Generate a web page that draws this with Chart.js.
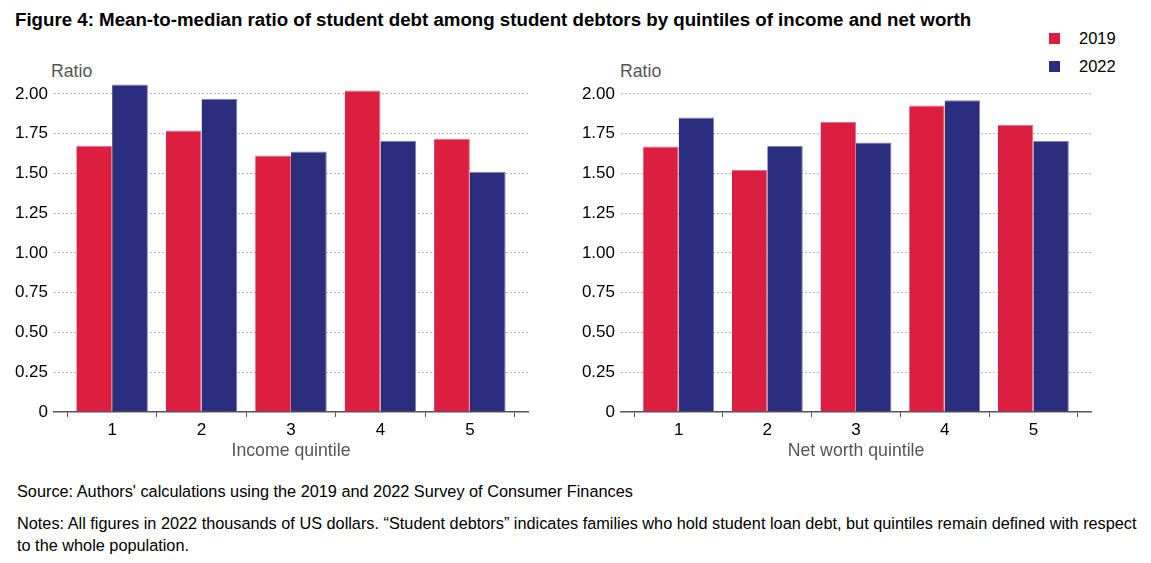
<!DOCTYPE html>
<html>
<head>
<meta charset="utf-8">
<script src="https://cdn.jsdelivr.net/npm/chart.js@4.4.1/dist/chart.umd.min.js"></script>
<style>
  html, body { margin: 0; padding: 0; background: #fff; }
  body { width: 1151px; height: 563px; position: relative; overflow: hidden; font-family: "Liberation Sans", Arial, sans-serif; }
  #title { position: absolute; left: 15px; top: 9px; font-size: 18.7px; font-weight: bold; color: #000; white-space: nowrap; }
  .ratio { position: absolute; top: 61px; font-size: 17.7px; color: #555; }
  .cwrap { position: absolute; top: 60px; height: 402px; }
  #legend { position: absolute; left: 1049px; top: 28px; font-size: 16.5px; color: #000; }
  .li { position: relative; height: 28px; line-height: 20px; }
  .sw { position: absolute; left: 0; top: 5px; width: 11px; height: 11px; }
  .lt { position: absolute; left: 30px; top: 0; }
  #source { position: absolute; left: 17px; top: 482px; font-size: 16.3px; color: #000; }
  #notes { position: absolute; left: 17px; top: 512px; width: 1132px; font-size: 16.3px; line-height: 22px; color: #000; }
</style>
</head>
<body>
<div id="title">Figure 4: Mean-to-median ratio of student debt among student debtors by quintiles of income and net worth</div>
<div id="legend">
  <div class="li"><span class="sw" style="background:#DC1F40"></span><span class="lt">2019</span></div>
  <div class="li"><span class="sw" style="background:#2B2E7D"></span><span class="lt">2022</span></div>
</div>
<div class="ratio" style="left:51px">Ratio</div>
<div class="ratio" style="left:620px">Ratio</div>
<div class="cwrap" style="left:0px; width:540px;"><canvas id="c1"></canvas></div>
<div class="cwrap" style="left:567px; width:536px;"><canvas id="c2"></canvas></div>
<div id="source">Source: Authors' calculations using the 2019 and 2022 Survey of Consumer Finances</div>
<div id="notes">Notes: All figures in 2022 thousands of US dollars. “Student debtors” indicates families who hold student loan debt, but quintiles remain defined with respect to the whole population.</div>
<script>
const quintiles = [1, 2, 3, 4, 5];
const seriesNames = ['2019', '2022'];
const income2019 = [1.674, 1.770, 1.613, 2.021, 1.718];
const income2022 = [2.059, 1.969, 1.638, 1.705, 1.510];
const networth2019 = [1.669, 1.521, 1.823, 1.927, 1.804];
const networth2022 = [1.852, 1.673, 1.694, 1.960, 1.704];
const yTicks = [0, 0.25, 0.5, 0.75, 1.0, 1.25, 1.5, 1.75, 2.0];
const xTitles = ['Income quintile', 'Net worth quintile'];

const RED = '#DC1F40', BLUE = '#2B2E7D';
const FONT = "'Liberation Sans', Arial, sans-serif";

function makeChart(id, d19, d22, xTitle) {
  const ctx = document.getElementById(id);
  return new Chart(ctx, {
    type: 'bar',
    data: {
      datasets: [
        { label: seriesNames[0], data: quintiles.map((q, i) => ({ x: q, y: d19[i] })), backgroundColor: RED, borderColor: '#E86F84', borderWidth: { top: 1, left: 0, right: 1, bottom: 0 } },
        { label: seriesNames[1], data: quintiles.map((q, i) => ({ x: q, y: d22[i] })), backgroundColor: BLUE, borderColor: '#7F81B3', borderWidth: { top: 1, left: 0, right: 1, bottom: 0 } }
      ]
    },
    options: {
      responsive: true,
      maintainAspectRatio: false,
      animation: false,
      layout: { padding: { top: 18, right: 12, bottom: 0, left: 0 } },
      datasets: { bar: { categoryPercentage: 0.8, barPercentage: 1.0 } },
      plugins: { legend: { display: false }, tooltip: { enabled: false }, title: { display: false } },
      scales: {
        x: {
          type: 'linear',
          min: 0.35,
          max: 5.65,
          offset: false,
          afterBuildTicks: (s) => { s.ticks = quintiles.map(v => ({ value: v })); },
          afterFit: (s) => { s.height = 50; },
          ticks: {
            callback: (v) => String(v),
            font: { family: FONT, size: 17 },
            color: '#000',
            padding: 3,
            maxRotation: 0,
            autoSkip: false
          },
          grid: { display: true, drawOnChartArea: false, drawTicks: true, tickLength: 5, color: '#555', lineWidth: 1 },
          border: { display: true, color: '#555', width: 1.5 },
          title: { display: true, text: xTitle, color: '#555', font: { family: FONT, size: 17.7 }, padding: { top: 0, bottom: 0 } }
        },
        y: {
          min: 0,
          max: 2.1,
          afterBuildTicks: (s) => { s.ticks = yTicks.map(v => ({ value: v })); },
          afterFit: (s) => { s.width = 54; },
          ticks: {
            callback: (v) => v === 0 ? '0' : v.toFixed(2),
            font: { family: FONT, size: 17 },
            color: '#000',
            padding: 6
          },
          grid: {
            drawTicks: false,
            color: (c) => c.tick && c.tick.value === 0 ? 'rgba(0,0,0,0)' : '#b5b5b5',
            lineWidth: 1
          },
          border: { display: false, dash: [2, 2] }
        }
      }
    }
  });
}

makeChart('c1', income2019, income2022, xTitles[0]);
makeChart('c2', networth2019, networth2022, xTitles[1]);
</script>
</body>
</html>
